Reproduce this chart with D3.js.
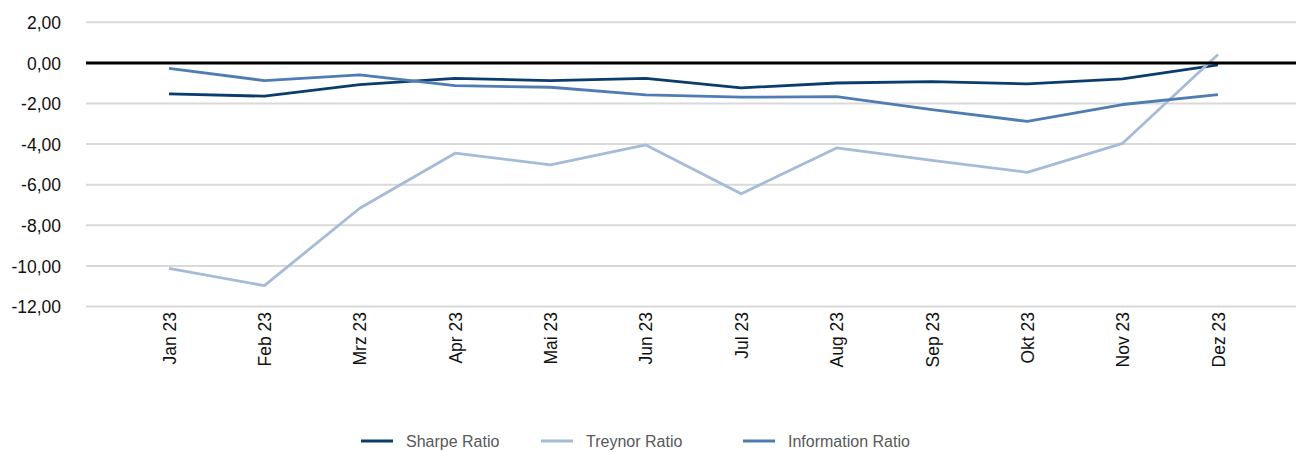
<!DOCTYPE html>
<html>
<head>
<meta charset="utf-8">
<script src="https://cdn.jsdelivr.net/npm/d3@7"></script>
<style>
  html, body { margin: 0; padding: 0; background: #fff; }
  svg text { font-family: Arial, "Liberation Sans", sans-serif; }
</style>
</head>
<body>
<div id="chart"></div>
<script>
const width = 1296;
const height = 452;

const months = ["Jan 23", "Feb 23", "Mrz 23", "Apr 23", "Mai 23", "Jun 23", "Jul 23", "Aug 23", "Sep 23", "Okt 23", "Nov 23", "Dez 23"];
const sharpe = [-1.53, -1.64, -1.07, -0.76, -0.87, -0.76, -1.23, -0.99, -0.92, -1.03, -0.79, -0.1];
const treynor = [-10.12, -10.97, -7.16, -4.45, -5.02, -4.04, -6.45, -4.19, -4.8, -5.39, -3.96, 0.41];
const information = [-0.27, -0.87, -0.59, -1.12, -1.2, -1.58, -1.69, -1.66, -2.3, -2.88, -2.05, -1.56];
const yTicks = [2, 0, -2, -4, -6, -8, -10, -12];

const series = [
  { name: "Sharpe Ratio", values: sharpe, color: "#0b3c6e" },
  { name: "Treynor Ratio", values: treynor, color: "#a5bbd7" },
  { name: "Information Ratio", values: information, color: "#4f7cb3" }
];

const svg = d3.select("#chart").append("svg").attr("width", width).attr("height", height);

const x = d3.scalePoint().domain(months).range([169, 1218]);
const y = d3.scaleLinear().domain([-12, 2]).range([306.5, 22.3]);
const gridLeft = 86;
const gridRight = 1296;

const fmt = (d) => d.toFixed(2).replace(".", ",");

// Gitternetz
svg
  .append("g")
  .selectAll("line")
  .data(yTicks.filter((d) => d !== 0))
  .join("line")
  .attr("x1", gridLeft)
  .attr("x2", gridRight)
  .attr("y1", (d) => y(d))
  .attr("y2", (d) => y(d))
  .attr("stroke", "#d9d9d9")
  .attr("stroke-width", 2);

// Y-Achse Beschriftung
const yAxis = d3.axisLeft(y).tickValues(yTicks).tickFormat(fmt).tickSize(0).tickPadding(0);
const yg = svg.append("g").attr("transform", "translate(61,0)").call(yAxis);
yg.select(".domain").remove();
yg.selectAll("text").attr("font-size", 17.5).attr("fill", "#111").attr("dy", "0.35em");

// X-Achse Beschriftung
const xAxis = d3.axisBottom(x).tickSize(0).tickPadding(0);
const xg = svg.append("g").attr("transform", "translate(0,312)").call(xAxis);
xg.select(".domain").remove();
xg.selectAll("text")
  .attr("font-size", 17.5)
  .attr("fill", "#111")
  .attr("transform", "rotate(-90)")
  .attr("text-anchor", "end")
  .attr("x", 0)
  .attr("y", 0)
  .attr("dy", "0.35em");

// Linien
const line = d3
  .line()
  .x((d, i) => x(months[i]))
  .y((d) => y(d));

svg
  .append("g")
  .selectAll("path")
  .data(series)
  .join("path")
  .attr("d", (d) => line(d.values))
  .attr("fill", "none")
  .attr("stroke", (d) => d.color)
  .attr("stroke-width", 2.8)
  .attr("stroke-linejoin", "round");

// Nulllinie
svg
  .append("line")
  .attr("x1", gridLeft)
  .attr("x2", gridRight)
  .attr("y1", y(0))
  .attr("y2", y(0))
  .attr("stroke", "#000")
  .attr("stroke-width", 3);

// Legende
const legendX = [361, 541, 743];
const legend = svg
  .append("g")
  .selectAll("g")
  .data(series)
  .join("g")
  .attr("transform", (d, i) => `translate(${legendX[i]},441)`);

legend
  .append("line")
  .attr("x1", 0)
  .attr("x2", 32)
  .attr("stroke", (d) => d.color)
  .attr("stroke-width", 3);

legend
  .append("text")
  .attr("x", 45)
  .attr("dy", "0.35em")
  .attr("font-size", 16)
  .attr("fill", "#595959")
  .text((d) => d.name);
</script>
</body>
</html>
